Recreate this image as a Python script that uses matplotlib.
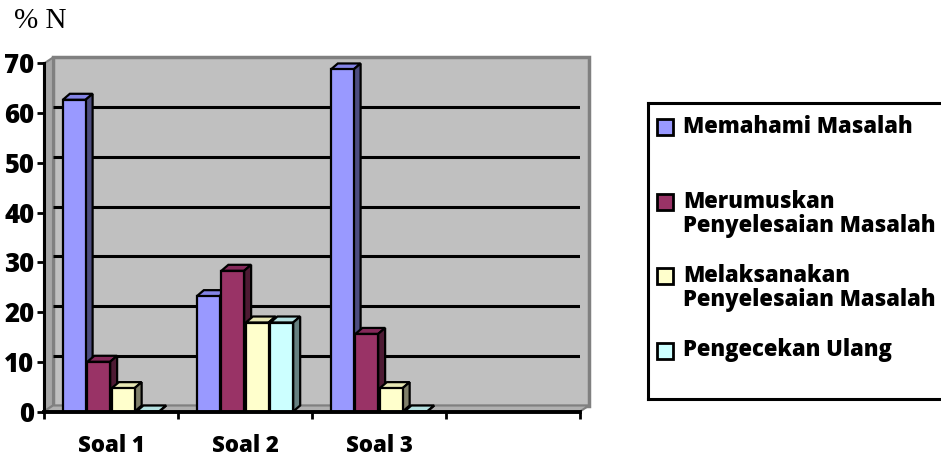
import matplotlib.pyplot as plt
import numpy as np
from matplotlib.patches import Polygon, Rectangle

# data
categories = ['Soal 1', 'Soal 2', 'Soal 3', '']
series_names = ['Memahami Masalah', 'Merumuskan\nPenyelesaian Masalah',
                'Melaksanakan\nPenyelesaian Masalah', 'Pengecekan Ulang']
memahami = [62.7, 23.2, 68.8]
merumuskan = [10.0, 28.3, 15.6]
melaksanakan = [4.7, 17.9, 4.7]
pengecekan = [0.0, 17.9, 0.0]
y_ticks = [0, 10, 20, 30, 40, 50, 60, 70]

series = [memahami, merumuskan, melaksanakan, pengecekan]
front_colors = ['#9999FF', '#993366', '#FFFFCC', '#CCFFFF']
top_colors = ['#8484E6', '#85295A', '#E6E6B4', '#B4E0E0']
side_colors = ['#4D4D80', '#4D1A33', '#80806A', '#668080']

FONT = 'Open Sans'
WEIGHT = 800

fig = plt.figure(figsize=(9.41, 4.57), dpi=100)
W, H = 941, 457
ax = fig.add_axes([44 / W, 45.5 / H, 536 / W, 348 / H])
ncat = len(categories)
ymax = y_ticks[-1]
ax.set_xlim(0, ncat)
ax.set_ylim(0, ymax)

# pixel -> data helpers for the fake 3d depth
px_x = 536 / ncat
px_y = 348 / ymax
wdx, wdy = 9 / px_x, 6 / px_y      # back wall offset
bdx, bdy = 7 / px_x, 6 / px_y      # bar depth

# back wall, side wall, floor
ax.add_patch(Polygon([(wdx, wdy), (ncat + wdx, wdy), (ncat + wdx, ymax + wdy), (wdx, ymax + wdy)],
                     closed=True, fc='#C0C0C0', ec='#808080', lw=2.5, clip_on=False, zorder=0))
ax.add_patch(Polygon([(0, 0), (wdx, wdy), (wdx, ymax + wdy), (0, ymax)],
                     closed=True, fc='#A6A6A6', ec='#808080', lw=1.5, clip_on=False, zorder=0.5))
ax.add_patch(Polygon([(0, 0), (ncat, 0), (ncat + wdx, wdy), (wdx, wdy)],
                     closed=True, fc='#B0B0B0', ec='#808080', lw=1.5, clip_on=False, zorder=0.5))

# gridlines on the back wall
for v in y_ticks[1:-1]:
    ax.plot([wdx, ncat + wdx], [v + wdy, v + wdy], color='black', lw=2.2, zorder=1,
            solid_capstyle='butt')

# bars
width = 0.17
step = 0.183
centers = np.arange(len(memahami)) + 0.5
for i, vals in enumerate(series):
    x = centers + (i - 1.5) * step
    ax.bar(x, vals, width=width, color=front_colors[i], edgecolor='black',
           linewidth=1.6, zorder=4 + 2 * i, joinstyle='miter')
    for xi, v in zip(x, vals):
        l, r = xi - width / 2, xi + width / 2
        ax.add_patch(Polygon([(l, v), (r, v), (r + bdx, v + bdy), (l + bdx, v + bdy)],
                             closed=True, fc=top_colors[i], ec='black', lw=1.6,
                             joinstyle='miter', zorder=3 + 2 * i, clip_on=False))
        ax.add_patch(Polygon([(r, 0), (r + bdx, bdy), (r + bdx, v + bdy), (r, v)],
                             closed=True, fc=side_colors[i], ec='black', lw=1.6,
                             joinstyle='miter', zorder=3 + 2 * i, clip_on=False))

# axes look
for s in ['top', 'right']:
    ax.spines[s].set_visible(False)
ax.spines['left'].set_linewidth(2.2)
ax.spines['bottom'].set_linewidth(2.8)
ax.spines['left'].set_zorder(20)
ax.spines['bottom'].set_zorder(20)
ax.set_yticks(y_ticks)
ax.set_yticklabels([str(t) for t in y_ticks], fontfamily=FONT, fontweight=WEIGHT, fontsize=18.5)
ax.tick_params(axis='y', direction='out', length=5, width=2, pad=2)
ax.set_xticks(np.arange(ncat + 1))
ax.set_xticklabels([])
ax.tick_params(axis='x', which='major', direction='out', length=5, width=2)
ax.set_xticks(np.arange(ncat) + 0.5, minor=True)
ax.set_xticklabels(categories, minor=True, fontfamily=FONT, fontweight=WEIGHT, fontsize=16)
ax.tick_params(axis='x', which='minor', length=0, pad=16.5)

fig.text(14 / W, 1 - 21 / H, '% N', fontfamily='Liberation Serif', fontsize=21, va='center')

# legend, drawn by hand so the spacing follows the original
lax = fig.add_axes([648 / W, 58 / H, 300 / W, 296 / H])
lax.set_xlim(0, 300)
lax.set_ylim(296, 0)
lax.set_xticks([])
lax.set_yticks([])
for s in lax.spines.values():
    s.set_linewidth(2.2)
first_line = 24
entry_gap = 74.5
line_gap = 24
for i, name in enumerate(series_names):
    y0 = first_line + i * entry_gap
    lax.add_patch(Rectangle((8.5, y0 - 8), 16, 16, fc=front_colors[i], ec='black', lw=2))
    for k, line in enumerate(name.split('\n')):
        lax.text(35, y0 + k * line_gap, line, fontfamily=FONT, fontweight=WEIGHT,
                 fontsize=15.8, va='center', ha='left')

fig.savefig('out.png', dpi=100)
